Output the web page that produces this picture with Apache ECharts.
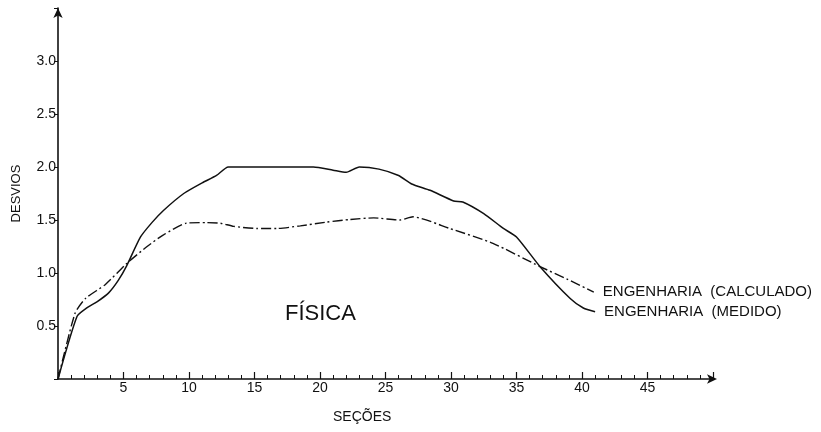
<!DOCTYPE html>
<html><head><meta charset="utf-8">
<script src="https://cdn.jsdelivr.net/npm/echarts@6/dist/echarts.min.js"></script>
<style>html,body{margin:0;padding:0;background:#fff}#c{width:821px;height:432px}</style>
</head><body><div id="c"></div>
<script>
const medidoX = [0,1.45,2.2,3.0,3.85,4.6,5.25,6.3,7.2,8.05,9.6,11,12.1,13,16,19.5,21,22,23,24.5,26,27,28.4,30.2,30.9,32.5,34,35,36.8,39.1,40.1,41];
const medidoY = [0,0.59,0.67,0.73,0.81,0.93,1.07,1.34,1.48,1.59,1.75,1.85,1.92,2.0,2.0,2.0,1.97,1.95,2.0,1.98,1.92,1.84,1.78,1.68,1.67,1.56,1.42,1.34,1.06,0.76,0.67,0.635];
const calcX = [0,1.3,2.1,3.6,5.25,6.8,8.05,9.8,11.3,12.4,13.4,15.2,16.7,18.5,20.5,22.3,24.1,26.1,27.1,29.9,33.2,36.8,38.9,40.9];
const calcY = [0,0.62,0.76,0.89,1.09,1.25,1.36,1.47,1.475,1.47,1.44,1.42,1.42,1.445,1.48,1.505,1.52,1.50,1.53,1.42,1.28,1.06,0.94,0.82];
const xTicks = [5,10,15,20,25,30,35,40,45];
const yTicks = [0.5,1.0,1.5,2.0,2.5,3.0];
const seriesNames = ['ENGENHARIA  (CALCULADO)','ENGENHARIA  (MEDIDO)'];

const FONT = 'Liberation Sans';
const pairs = (xs, ys) => xs.map((x, i) => [x, ys[i]]);
const chart = echarts.init(document.getElementById('c'));
chart.setOption({
  animation: false,
  backgroundColor: '#fff',
  grid: {left: 58, right: 108, top: 8, bottom: 53, containLabel: false},
  title: [
    {text: 'FÍSICA', left: 280, top: 298, textStyle: {fontFamily: FONT, fontSize: 22, fontWeight: 'normal', color: '#111'}},
    {text: 'SEÇÕES', left: 328, top: 405, textStyle: {fontFamily: FONT, fontSize: 14, fontWeight: 'normal', color: '#111'}}
  ],
  xAxis: {
    type: 'value', min: 0, max: 50, interval: 5,
    axisLine: {show: true, symbol: ['none', 'arrow'], symbolSize: [7, 10], symbolOffset: [0, 4], lineStyle: {color: '#111', width: 1.6}},
    axisTick: {show: true, inside: true, length: 7, lineStyle: {color: '#111', width: 1.2}},
    minorTick: {show: true, splitNumber: 5, length: 4, lineStyle: {color: '#111', width: 1}},
    splitLine: {show: false},
    axisLabel: {margin: 2, fontFamily: FONT, fontSize: 14, color: '#111',
      formatter: v => xTicks.includes(v) ? String(v) : ''}
  },
  yAxis: {
    type: 'value', min: 0, max: 3.5, interval: 0.5,
    name: 'DESVIOS', nameLocation: 'middle', nameGap: 35, nameRotate: 90,
    nameTextStyle: {fontFamily: FONT, fontSize: 13, color: '#111'},
    axisLine: {show: true, symbol: ['none', 'arrow'], symbolSize: [7, 10], lineStyle: {color: '#111', width: 1.6}},
    axisTick: {show: true, inside: false, length: 4, lineStyle: {color: '#111', width: 1}},
    splitLine: {show: false},
    axisLabel: {margin: 2, fontFamily: FONT, fontSize: 14, color: '#111',
      formatter: v => yTicks.some(t => Math.abs(t - v) < 1e-6) ? v.toFixed(1) : ''}
  },
  series: [
    {
      name: seriesNames[0], type: 'line', data: pairs(calcX, calcY), symbol: 'none', smooth: 0.2,
      lineStyle: {color: '#111', width: 1.4, type: [10, 3, 2, 3]},
      endLabel: {show: true, formatter: '{a}', distance: 9, fontFamily: FONT, fontSize: 15, color: '#111'}
    },
    {
      name: seriesNames[1], type: 'line', data: pairs(medidoX, medidoY), symbol: 'none', smooth: 0.2,
      lineStyle: {color: '#111', width: 1.5},
      endLabel: {show: true, formatter: '{a}', distance: 9, fontFamily: FONT, fontSize: 15, color: '#111'}
    }
  ]
});
</script></body></html>
